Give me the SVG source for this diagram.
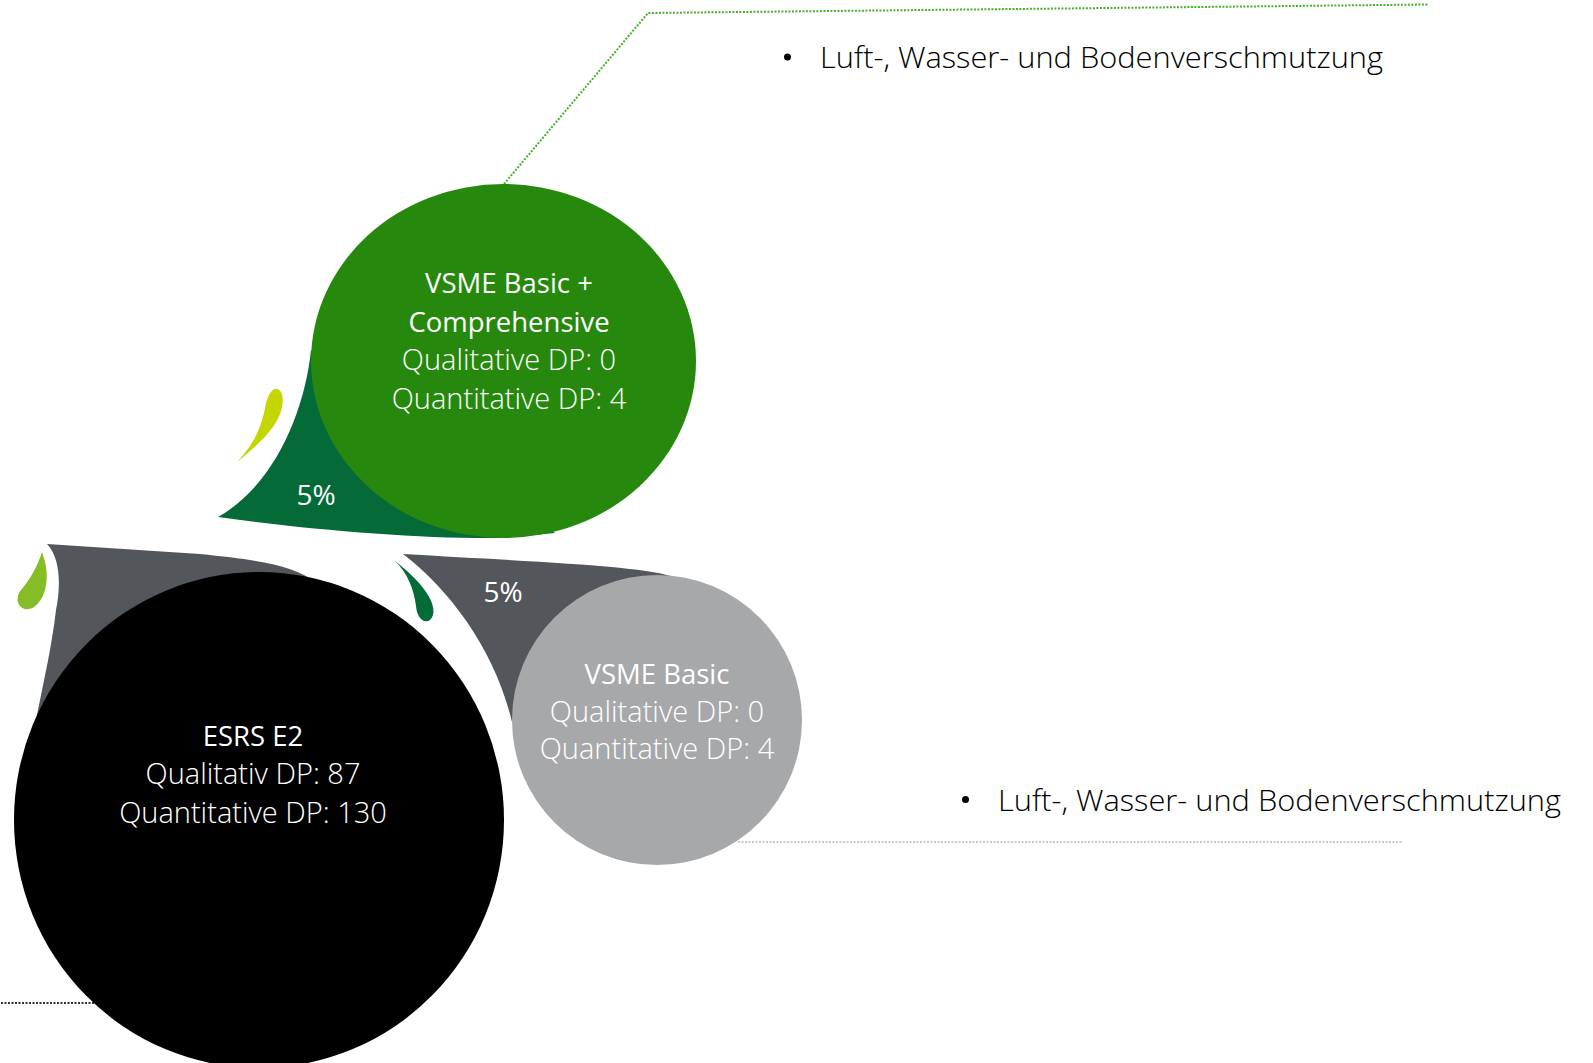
<svg xmlns="http://www.w3.org/2000/svg" width="1593" height="1063" viewBox="0 0 1593 1063">
<style>
text{font-family:"Open Sans","Noto Sans","Liberation Sans",sans-serif;font-size:29px;font-weight:300;fill:#fff;text-anchor:middle}
.b{font-weight:400;font-size:27.500px}
.p{font-weight:400;font-size:28px}
.t{fill:#000;text-anchor:start;font-size:30px}
.dot{fill:none;stroke-width:2;stroke-dasharray:2 1.5}
</style>
<rect width="1593" height="1063" fill="#fff"/>
<g id="connectors">
<path class="dot" d="M504 184L648 13L1428 4.500" stroke="#43B02A"/>
<path class="dot" d="M738 842L1402 842" stroke="#c8c9ca"/>
<path class="dot" d="M1 1003L95 1003" stroke="#333"/>
</g>
<g id="node-vsme-comprehensive">
<path d="M311 350C305 410 275 485 218 517C310 530 420 539 500 538L555 533L400 420Z" fill="#046A38"/>
<ellipse cx="503.500" cy="361" rx="192.500" ry="177" fill="#26890D"/>
<path d="M237 462C258 440 263 420 266 403C269 392 274 388 277 389C282 390 284 397 282 407C279 425 260 444 237 462Z" fill="#C4D600"/>
<text x="316" y="505" class="p">5%</text>
<text x="509" y="293" class="b">VSME Basic +</text>
<text x="509" y="332" class="b">Comprehensive</text>
<text x="509" y="370">Qualitative DP: 0</text>
<text x="509" y="409">Quantitative DP: 4</text>
</g>
<g id="node-esrs">
<path d="M47 544C62 560 60 590 56 610C52 645 44 680 36 720L315 582C295 566 260 560 200 554Z" fill="#53565A"/>
<path d="M42 552C38 565 31 578 21 590C15 597 17 607 25 609C34 611 44 600 46 585C48 574 46 563 42 552Z" fill="#86BC25"/>
<ellipse cx="259" cy="820" rx="245" ry="248" fill="#000"/>
<text x="253" y="746" class="b">ESRS E2</text>
<text x="253" y="784">Qualitativ DP: 87</text>
<text x="253" y="823">Quantitative DP: 130</text>
</g>
<g id="node-vsme-basic">
<path d="M403 554C450 590 495 650 512 722L540 640L676 578C650 566 540 562 403 554Z" fill="#53565A"/>
<path d="M394 560C408 573 414 590 416 606C417 618 424 624 430 620C436 615 434 603 426 592C418 580 406 570 394 560Z" fill="#046A38"/>
<circle cx="657" cy="720" r="145" fill="#A7A8AA"/>
<text x="503" y="602" class="p">5%</text>
<text x="657" y="684" class="b">VSME Basic</text>
<text x="657" y="722">Qualitative DP: 0</text>
<text x="657" y="759">Quantitative DP: 4</text>
</g>
<g id="note-top">
<circle cx="787.500" cy="57" r="3.500" fill="#000"/>
<text x="820" y="68" class="t" textLength="563" lengthAdjust="spacingAndGlyphs">Luft-, Wasser- und Bodenverschmutzung</text>
</g>
<g id="note-bottom">
<circle cx="965.500" cy="799.500" r="3.500" fill="#000"/>
<text x="998" y="811" class="t" textLength="563" lengthAdjust="spacingAndGlyphs">Luft-, Wasser- und Bodenverschmutzung</text>
</g>
</svg>
